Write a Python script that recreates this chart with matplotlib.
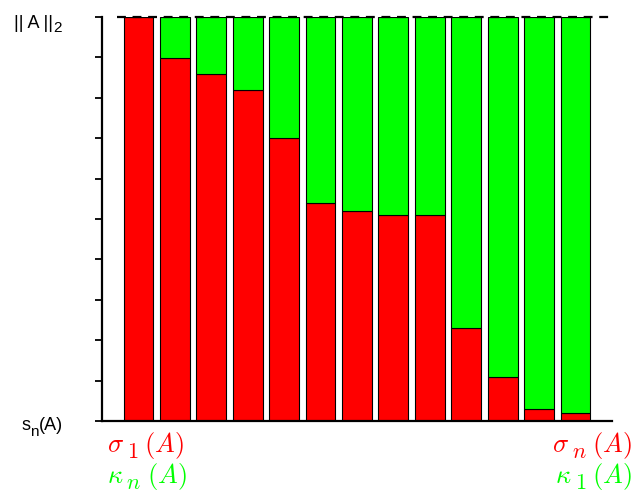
import matplotlib
matplotlib.use("Agg")
import matplotlib.pyplot as plt
import numpy as np
from matplotlib.transforms import IdentityTransform

plt.rcParams["font.family"] = ["Liberation Sans", "DejaVu Sans"]
plt.rcParams["mathtext.fontset"] = "cm"

# share of the norm carried by sigma (red); the rest is kappa (green)
positions = np.arange(1, 14)
sigma_part = [1.0, 0.899, 0.859, 0.819, 0.700, 0.540, 0.520, 0.510, 0.510,
              0.230, 0.109, 0.030, 0.020]
kappa_part = [1.0 - s for s in sigma_part]

red = "#ff0000"
green = "#00ff00"

fig = plt.figure(figsize=(6.38, 4.93), dpi=100)
ax = fig.add_axes([0.16, 0.146, 0.799, 0.8195])

ax.bar(positions, sigma_part, width=0.82, color=red, edgecolor="black", linewidth=0.8)
ax.bar(positions, kappa_part, width=0.82, bottom=sigma_part, color=green,
       edgecolor="black", linewidth=0.8)

# dashed line at the norm level
ax.plot([0.4, 14], [1, 1], color="black", linestyle=(0, (4, 3)), linewidth=1.6,
        clip_on=False)

ax.set_xlim(0, 14)
ax.set_ylim(0, 1)
ax.spines["top"].set_visible(False)
ax.spines["right"].set_visible(False)
ax.spines["left"].set_linewidth(1.6)
ax.spines["bottom"].set_linewidth(1.6)

ax.set_xticks([])
ax.set_yticks(np.linspace(0, 1, 11))
ax.set_yticklabels([])
ax.tick_params(axis="y", direction="out", length=5, width=1.3)

renderer = fig.canvas.get_renderer()
pixels = IdentityTransform()


def draw_label(parts, x, y, color, size, sub_size, drop, ha="left"):
    # parts: (text, lowered, gap before in px); pieces share one baseline,
    # lowered pieces sit `drop` px below it in a smaller size
    texts, widths = [], []
    for text, lowered, gap in parts:
        t = fig.text(0, 0, text, color=color, transform=pixels, va="baseline",
                     fontsize=sub_size if lowered else size)
        texts.append((t, lowered, gap))
        widths.append(t.get_window_extent(renderer).width)
    total = sum(widths) + sum(g for _, _, g in parts)
    cursor = x - total if ha == "right" else x
    for (t, lowered, gap), w in zip(texts, widths):
        cursor += gap
        t.set_position((cursor, y - drop if lowered else y))
        cursor += w


# y-axis end labels
draw_label([("|| A ||", False, 0), ("2", True, 1)], 62, 465, "black", 13, 11, 4,
           ha="right")
draw_label([("s", False, 0), ("n", True, 0), ("(A)", False, 0)], 63, 63, "black",
           13, 11, 6, ha="right")

# end labels under the axis
draw_label([(r"$\sigma$", False, 0), (r"$1$", True, 3), (r"$(A)$", False, 6)],
           107, 41, red, 19, 16, 6)
draw_label([(r"$\kappa$", False, 0), (r"$n$", True, 3), (r"$(A)$", False, 6)],
           107, 10, green, 19, 16, 6)
draw_label([(r"$\sigma$", False, 0), (r"$n$", True, 3), (r"$(A)$", False, 6)],
           632, 41, red, 19, 16, 6, ha="right")
draw_label([(r"$\kappa$", False, 0), (r"$1$", True, 3), (r"$(A)$", False, 6)],
           632, 10, green, 19, 16, 6, ha="right")

fig.savefig("out.png", dpi=100)
